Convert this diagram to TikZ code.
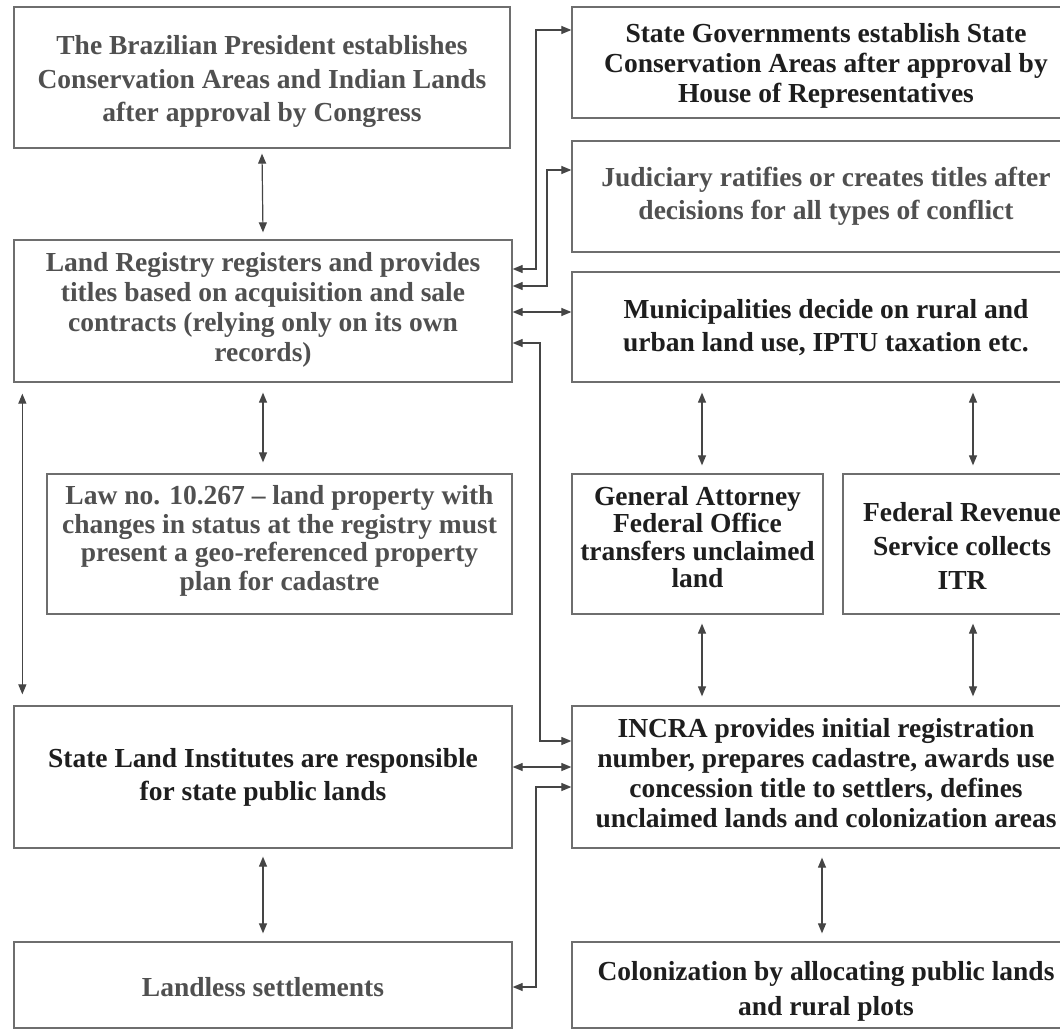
\documentclass[tikz,border=0pt]{standalone}
\usepackage{fontspec}
\setmainfont{Liberation Serif}
\usetikzlibrary{arrows.meta,calc}
\definecolor{txtgray}{HTML}{505050}
\definecolor{txtdark}{HTML}{1E1E1E}
\definecolor{boxline}{HTML}{6E6E6E}
\definecolor{arrline}{HTML}{454545}
\begin{document}
\begin{tikzpicture}[x=1pt,y=-1pt,
  box/.style={draw=boxline, line width=1.3pt, rectangle, inner sep=0pt},
  txt/.style={inner sep=0pt, align=center, font=\fontsize{27.5}{30}\selectfont\bfseries},
  ls/.style={font=\fontsize{27.5}{#1}\selectfont\bfseries},
  gr/.style={text=txtgray}, dk/.style={text=txtdark},
  arr/.style={draw=arrline, line width=1.2pt,
    {Triangle[length=10pt,width=8pt]}-{Triangle[length=10pt,width=8pt]}}]
\useasboundingbox (0,0) rectangle (1060,1030);
\fill[white] (0,0) rectangle (1060,1030);
\clip (0,0) rectangle (1060,1030);

% left column boxes
\node[box,minimum width=496pt,minimum height=141pt] (pres) at (262,77.5) {};
\node[box,minimum width=498pt,minimum height=142pt] (reg) at (263,311) {};
\node[box,minimum width=465pt,minimum height=140pt] (law) at (279.5,544) {};
\node[box,minimum width=498pt,minimum height=142pt] (sli) at (263,777) {};
\node[box,minimum width=498pt,minimum height=86pt] (landless) at (263,985) {};
% right column boxes
\node[box,minimum width=508pt,minimum height=111pt] (sg) at (826,62.5) {};
\node[box,minimum width=508pt,minimum height=111pt] (jud) at (826,196.5) {};
\node[box,minimum width=508pt,minimum height=110pt] (mun) at (826,327) {};
\node[box,minimum width=251pt,minimum height=140pt] (gaf) at (697.5,544) {};
\node[box,minimum width=238pt,minimum height=140pt] (frs) at (962,544) {};
\node[box,minimum width=508pt,minimum height=142pt] (incra) at (826,777) {};
\node[box,minimum width=508pt,minimum height=86pt] (col) at (826,985) {};

% texts
\node[txt,gr,ls=33.5] (presT) at ($(pres.center)+(0,4)$)
  {The Brazilian President establishes\\Conservation Areas and Indian Lands\\after approval by Congress};
\node[txt,gr] (regT) at ($(reg.center)+(0,-1)$)
  {Land Registry registers and provides\\titles based on acquisition and sale\\contracts (relying only on its own\\records)};
\node[txt,gr,ls=28.5] (lawT) at ($(law.center)+(0,-3)$)
  {Law no. 10.267 -- land property with\\changes in status at the registry must\\present a geo-referenced property\\plan for cadastre};
\node[txt,dk,ls=33] (sliT) at (sli.center)
  {State Land Institutes are responsible\\for state public lands};
\node[txt,gr] (landlessT) at ($(landless.center)+(0,2)$)
  {Landless settlements};
\node[txt,dk] (sgT) at ($(sg.center)+(0,3)$)
  {State Governments establish State\\Conservation Areas after approval by\\House of Representatives};
\node[txt,gr,ls=33] (judT) at (jud.center)
  {Judiciary ratifies or creates titles after\\decisions for all types of conflict};
\node[txt,dk,ls=33] (munT) at ($(mun.center)+(0,1)$)
  {Municipalities decide on rural and\\urban land use, IPTU taxation etc.};
\node[txt,dk,ls=27.3] (gafT) at ($(gaf.center)+(0,-7)$)
  {General Attorney\\Federal Office\\transfers unclaimed\\land};
\node[txt,dk,ls=34] (frsT) at ($(frs.center)+(0,2)$)
  {Federal Revenue\\Service collects\\ITR};
\node[txt,dk] (incraT) at ($(incra.center)+(0,-4)$)
  {INCRA provides initial registration\\number, prepares cadastre, awards use\\concession title to settlers, defines\\unclaimed lands and colonization areas};
\node[txt,dk,ls=35] (colT) at ($(col.center)+(0,6)$)
  {Colonization by allocating public lands\\and rural plots};

% vertical connectors
\draw[arr] ($(pres.south)+(0,5)$) -- ($(reg.north)+(0,-7)$);
\draw[arr] ($(reg.south)+(0,10)$) -- ($(law.north -| reg.south)+(0,-11)$);
\draw[arr] ($(reg.south west)+(9,11)$) -- ($(sli.north west)+(9,-11)$);
\draw[arr] ($(sli.south)+(0,8)$) -- ($(landless.north)+(0,-8)$);
\draw[arr] ($(mun.south -| gaf.north)+(4.5,10)$) -- ($(gaf.north)+(4.5,-8)$);
\draw[arr] ($(mun.south -| frs.north)+(11,10)$) -- ($(frs.north)+(11,-8)$);
\draw[arr] ($(gaf.south)+(4.5,9)$) -- ($(incra.north -| gaf.south)+(4.5,-9)$);
\draw[arr] ($(frs.south)+(11,9)$) -- ($(incra.north -| frs.south)+(11,-9)$);
\draw[arr] ($(incra.south)+(-4,9)$) -- ($(col.north)+(-4,-8)$);

% elbow / horizontal connectors
\draw[arr] (reg.east |- 0,269) -- (536,269) -- (536,30) -- (sg.west |- 0,30);
\draw[arr] (reg.east |- 0,286) -- (547,286) -- (547,170) -- (jud.west |- 0,170);
\draw[arr] (reg.east |- 0,312) -- (mun.west |- 0,312);
\draw[arr] (reg.east |- 0,343) -- (540,343) -- (540,741) -- (incra.west |- 0,741);
\draw[arr] (sli.east |- 0,767) -- (incra.west |- 0,767);
\draw[arr] (incra.west |- 0,787) -- (536,787) -- (536,987) -- (landless.east |- 0,987);
\end{tikzpicture}
\end{document}
